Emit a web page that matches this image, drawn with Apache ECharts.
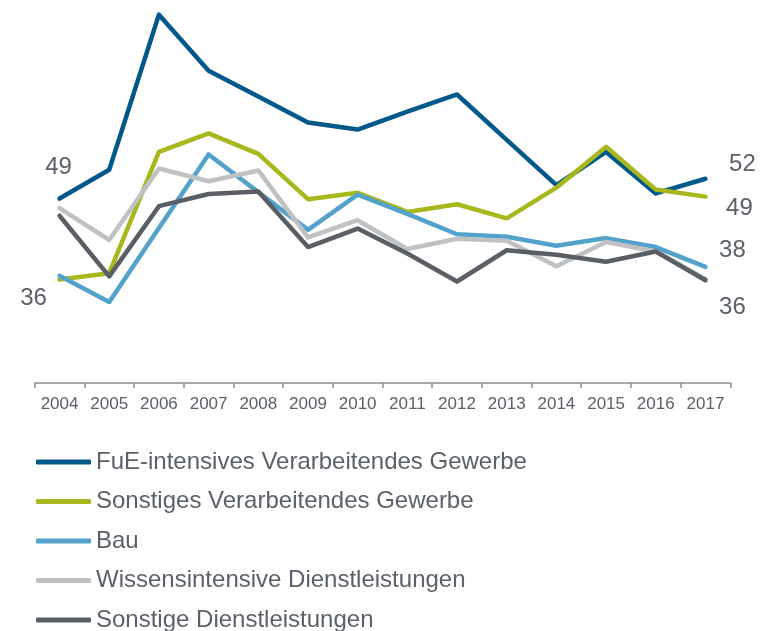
<!DOCTYPE html>
<html>
<head>
<meta charset="utf-8">
<script src="https://cdn.jsdelivr.net/npm/echarts@6/dist/echarts.min.js"></script>
<style>
html,body{margin:0;padding:0;background:#fff;}
#chart{width:769px;height:631px;}
</style>
</head>
<body>
<div id="chart"></div>
<script>
const years = ['2004','2005','2006','2007','2008','2009','2010','2011','2012','2013','2014','2015','2016','2017'];
const seriesNames = ['FuE-intensives Verarbeitendes Gewerbe','Sonstiges Verarbeitendes Gewerbe','Bau','Wissensintensive Dienstleistungen','Sonstige Dienstleistungen'];
const fue = [48.9, 53.4, 77.7, 68.9, 64.9, 60.8, 59.7, 62.5, 65.2, 58.1, 51.0, 56.2, 49.7, 52.0];
const sonstVerarb = [36.2, 37.2, 56.2, 59.1, 55.9, 48.8, 49.8, 46.8, 48.0, 45.8, 50.6, 57.0, 50.3, 49.2];
const bau = [36.8, 32.7, 44.3, 55.8, 49.9, 44.0, 49.5, 46.5, 43.3, 42.9, 41.5, 42.7, 41.3, 38.2];
const wissDL = [47.4, 42.4, 53.6, 51.6, 53.3, 42.8, 45.5, 41.0, 42.6, 42.3, 38.3, 42.1, 40.6, 36.3];
const sonstDL = [46.2, 36.7, 47.7, 49.6, 50.0, 41.3, 44.2, 40.3, 35.9, 40.8, 40.1, 39.0, 40.6, 36.1];

const colors = ['#00598a', '#a8b81c', '#52a2cb', '#bfc1c3', '#595f65'];
const textColor = '#5b6168';
const font = '"Liberation Sans", Arial, sans-serif';

// label offsets for annotated points: [seriesIndex, dataIndex, dx, dy]
const annotations = [
  [0, 0, -1, -31],
  [1, 0, -26, 19],
  [0, 13, 37, -14],
  [1, 13, 34, 12],
  [2, 13, 27, -16],
  [4, 13, 27, 27]
];

const allData = [fue, sonstVerarb, bau, wissDL, sonstDL];

function buildData(si) {
  return allData[si].map((v, i) => {
    const a = annotations.find(x => x[0] === si && x[1] === i);
    if (!a) return v;
    return {
      value: v,
      label: {
        show: true,
        position: 'inside',
        offset: [a[2], a[3]],
        formatter: p => String(Math.round(p.value)),
        fontSize: 24,
        fontFamily: font,
        color: textColor
      }
    };
  });
}

const series = seriesNames.map((name, si) => ({
  name: name,
  type: 'line',
  data: buildData(si),
  symbol: 'circle',
  symbolSize: 0,
  showSymbol: true,
  color: colors[si],
  itemStyle: { color: colors[si] },
  lineStyle: { width: 4.5, color: colors[si], cap: 'round', join: 'round' },
  label: { show: false },
  emphasis: { disabled: true },
  animation: false,
  z: 2 + si
}));

const chart = echarts.init(document.getElementById('chart'), null, { renderer: 'canvas' });
chart.setOption({
  backgroundColor: '#ffffff',
  animation: false,
  grid: { left: 34.7, right: 38.7, top: 0, height: 383, containLabel: false },
  xAxis: {
    type: 'category',
    data: years,
    boundaryGap: true,
    axisLine: { lineStyle: { color: '#8c8f93', width: 1.5 } },
    axisTick: { show: true, length: 5, lineStyle: { color: '#8c8f93', width: 1.5 } },
    axisLabel: { color: textColor, fontSize: 17, fontFamily: font, margin: 13, interval: 0 }
  },
  yAxis: {
    type: 'value',
    min: 20,
    max: 80,
    show: false,
    splitLine: { show: false }
  },
  legend: {
    orient: 'vertical',
    left: 31,
    top: 443,
    height: 190,
    icon: 'roundRect',
    itemWidth: 55,
    itemHeight: 5,
    itemGap: 11.5,
    data: seriesNames,
    textStyle: { color: textColor, fontSize: 24, fontFamily: font, lineHeight: 28 },
    selectedMode: false
  },
  series: series
});
</script>
</body>
</html>
